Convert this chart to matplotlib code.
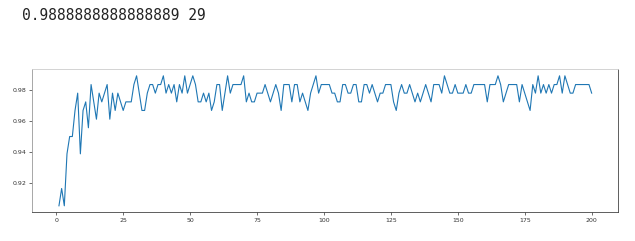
# Exactitud vs k (k = 1..200), salida tipo notebook
import numpy as np
import matplotlib
matplotlib.use('Agg')
import matplotlib.pyplot as plt

# Valores de k
k_values = list(range(1, 201))

# Exactitud para cada k
scores = [
    0.9056, 0.9167, 0.9056, 0.9389, 0.9500, 0.9500, 0.9667, 0.9778, 0.9389, 0.9667,
    0.9722, 0.9556, 0.9833, 0.9722, 0.9611, 0.9778, 0.9722, 0.9778, 0.9833, 0.9611,
    0.9778, 0.9667, 0.9778, 0.9722, 0.9667, 0.9722, 0.9722, 0.9722, 0.9833, 0.9889,
    0.9778, 0.9667, 0.9667, 0.9778, 0.9833, 0.9833, 0.9778, 0.9833, 0.9833, 0.9889,
    0.9778, 0.9833, 0.9778, 0.9833, 0.9722, 0.9833, 0.9778, 0.9889, 0.9778, 0.9833,
    0.9889, 0.9833, 0.9722, 0.9722, 0.9778, 0.9722, 0.9778, 0.9667, 0.9722, 0.9833,
    0.9833, 0.9667, 0.9778, 0.9889, 0.9778, 0.9833, 0.9833, 0.9833, 0.9833, 0.9889,
    0.9722, 0.9778, 0.9722, 0.9722, 0.9778, 0.9778, 0.9778, 0.9833, 0.9778, 0.9722,
    0.9778, 0.9833, 0.9778, 0.9667, 0.9833, 0.9833, 0.9833, 0.9722, 0.9833, 0.9833,
    0.9722, 0.9778, 0.9722, 0.9667, 0.9778, 0.9833, 0.9889, 0.9778, 0.9833, 0.9833,
    0.9833, 0.9833, 0.9778, 0.9778, 0.9722, 0.9722, 0.9833, 0.9833, 0.9778, 0.9778,
    0.9833, 0.9833, 0.9722, 0.9722, 0.9833, 0.9833, 0.9778, 0.9833, 0.9778, 0.9722,
    0.9778, 0.9778, 0.9833, 0.9833, 0.9833, 0.9722, 0.9667, 0.9778, 0.9833, 0.9778,
    0.9778, 0.9833, 0.9778, 0.9722, 0.9778, 0.9722, 0.9778, 0.9833, 0.9778, 0.9722,
    0.9833, 0.9833, 0.9833, 0.9778, 0.9889, 0.9833, 0.9778, 0.9778, 0.9833, 0.9778,
    0.9778, 0.9778, 0.9833, 0.9778, 0.9778, 0.9833, 0.9833, 0.9833, 0.9833, 0.9833,
    0.9722, 0.9833, 0.9833, 0.9833, 0.9889, 0.9833, 0.9722, 0.9778, 0.9833, 0.9833,
    0.9833, 0.9833, 0.9722, 0.9833, 0.9778, 0.9722, 0.9667, 0.9833, 0.9778, 0.9889,
    0.9778, 0.9833, 0.9778, 0.9833, 0.9778, 0.9833, 0.9833, 0.9889, 0.9778, 0.9889,
    0.9833, 0.9778, 0.9778, 0.9833, 0.9833, 0.9833, 0.9833, 0.9833, 0.9833, 0.9778,
]

# Texto impreso arriba (mejor exactitud y su índice)
printed_text = '0.9888888888888889 29'

fig = plt.figure(figsize=(6.35, 2.41), dpi=100)
fig.text(22 / 635, 1 - 16 / 241, printed_text, family='DejaVu Sans Mono',
         fontsize=10.5, color='#222222', va='center', ha='left')

ax = fig.add_axes([0.0509, 0.1191, 0.9228, 0.5933])
ax.plot(k_values, scores, color='#1f77b4', linewidth=0.8)

ax.set_xticks([0, 25, 50, 75, 100, 125, 150, 175, 200])
ax.set_yticks([0.92, 0.94, 0.96, 0.98])
ax.tick_params(labelsize=4.5, length=2, width=0.5, pad=2, colors='#333333')
# bordes: arriba/izquierda más claros, como en la imagen original
ax.spines['top'].set_color('#cccccc')
ax.spines['left'].set_color('#999999')
ax.spines['right'].set_color('#444444')
ax.spines['bottom'].set_color('#444444')
for side in ax.spines:
    ax.spines[side].set_linewidth(0.6)

fig.savefig('out.png', dpi=100)
